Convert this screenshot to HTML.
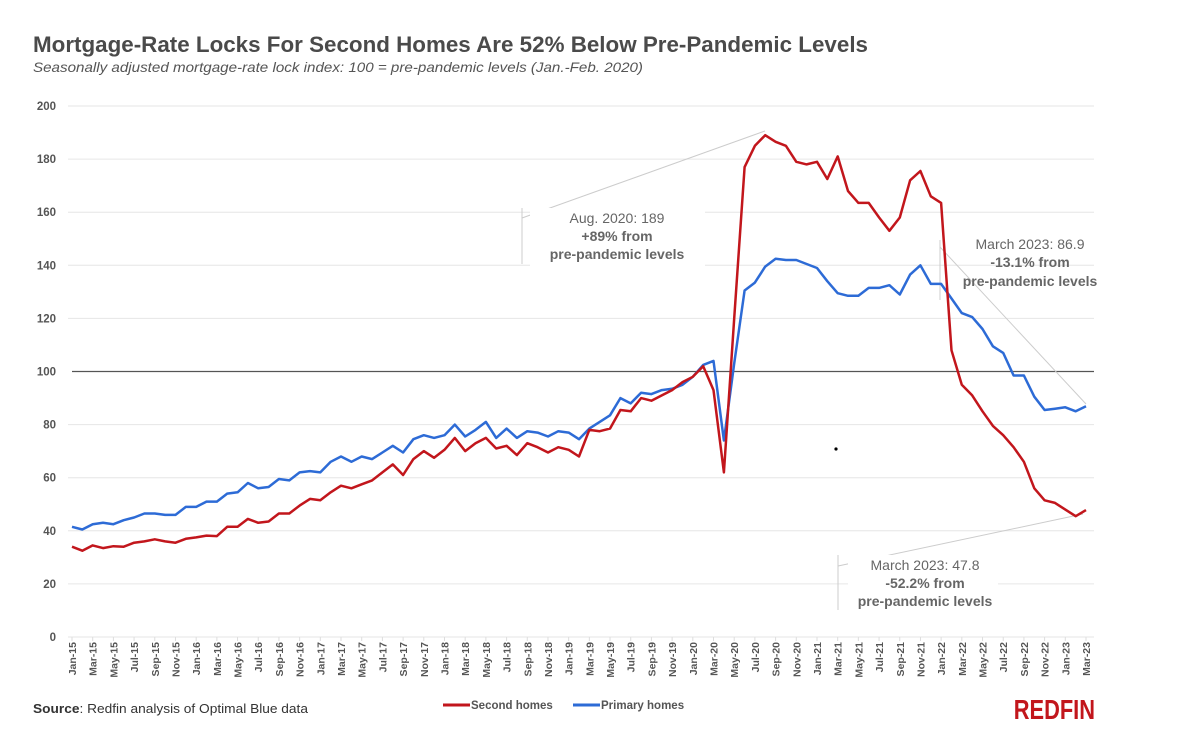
<!DOCTYPE html>
<html><head><meta charset="utf-8"><style>
body{margin:0;background:#fff;width:1200px;height:738px;overflow:hidden}
svg{display:block;font-family:"Liberation Sans",sans-serif}
</style></head><body>
<svg id="s" width="1200" height="738" viewBox="0 0 1200 738" xmlns="http://www.w3.org/2000/svg">
<text x="33" y="52" font-size="22" font-weight="bold" fill="#4a4a4a" textLength="835" lengthAdjust="spacingAndGlyphs">Mortgage-Rate Locks For Second Homes Are 52% Below Pre-Pandemic Levels</text>
<text x="33" y="72" font-size="14" font-style="italic" fill="#555" textLength="610" lengthAdjust="spacingAndGlyphs">Seasonally adjusted mortgage-rate lock index: 100 = pre-pandemic levels (Jan.-Feb. 2020)</text>
<g id="grid"></g>
<line x1="72" y1="371.5" x2="1094" y2="371.5" stroke="#555" stroke-width="1.3"/>
<g stroke="#ccc" stroke-width="1" fill="none">
<polyline points="522,208 522,264"/><line x1="522" y1="218" x2="765" y2="131"/>
<polyline points="940,240 940,300"/><line x1="940" y1="247" x2="1086" y2="404"/>
<polyline points="838,555 838,610"/><line x1="838" y1="566" x2="1083" y2="514"/>
</g>
<rect x="530" y="208" width="175" height="60" fill="#fff"/>
<text text-anchor="middle" font-size="14" fill="#666"><tspan x="617" y="223">Aug. 2020: 189</tspan><tspan x="617" y="241" font-weight="bold">+89% from</tspan><tspan x="617" y="259" font-weight="bold">pre-pandemic levels</tspan></text>
<text text-anchor="middle" font-size="14" fill="#666"><tspan x="1030" y="249">March 2023: 86.9</tspan><tspan x="1030" y="267" font-weight="bold">-13.1% from</tspan><tspan x="1030" y="286" font-weight="bold">pre-pandemic levels</tspan></text>
<rect x="848" y="555" width="150" height="55" fill="#fff"/>
<text text-anchor="middle" font-size="14" fill="#666"><tspan x="925" y="570">March 2023: 47.8</tspan><tspan x="925" y="588" font-weight="bold">-52.2% from</tspan><tspan x="925" y="606" font-weight="bold">pre-pandemic levels</tspan></text>
<polyline id="blue" fill="none" stroke="#2d6bd6" stroke-width="2.5" stroke-linejoin="round"/>
<polyline id="red" fill="none" stroke="#c2161c" stroke-width="2.5" stroke-linejoin="round"/>
<circle cx="836" cy="449" r="1.6" fill="#000"/>
<g id="xl" font-size="10.5" font-weight="bold" fill="#555"></g>
<text x="33" y="713" font-size="13" fill="#333" textLength="275" lengthAdjust="spacingAndGlyphs"><tspan font-weight="bold">Source</tspan>: Redfin analysis of Optimal Blue data</text>
<line x1="443" y1="705" x2="470" y2="705" stroke="#c2161c" stroke-width="3"/>
<text x="471" y="709" font-size="11.5" font-weight="bold" fill="#555">Second homes</text>
<line x1="573" y1="705" x2="600" y2="705" stroke="#2d6bd6" stroke-width="3"/>
<text x="601" y="709" font-size="11.5" font-weight="bold" fill="#555">Primary homes</text>
<text x="1095" y="719" text-anchor="end" font-size="28" font-weight="bold" fill="#c2161c" transform="translate(1095 0) scale(0.78 1) translate(-1095 0)">REDFIN</text>
</svg>
<script>
var Y=v=>637-2.655*v, X=i=>72+i*(1086-72)/98, NS="http://www.w3.org/2000/svg";
var red=[34,32.5,34.5,33.5,34.2,34,35.5,36,36.8,36,35.5,37,
37.5,38.2,38,41.5,41.5,44.5,43,43.5,46.5,46.5,49.5,52,
51.5,54.5,57,56,57.5,59,62,65,61,67,70,67.5,
70.5,75,70,73,75,71,72,68.5,73,71.5,69.5,71.5,
70.5,68,78,77.5,78.5,85.5,85,90,89,91,93,96,
98,102,93,62,120,177,185,189,186.5,185,179,178,
179,172.5,181,168,163.5,163.5,158,153,158,172,175.5,166,
163.5,108,95,91,85,79.5,76,71.5,66,56,51.5,50.5,
48,45.5,47.8];
var blue=[41.5,40.5,42.5,43,42.5,44,45,46.5,46.5,46,46,49,
49,51,51,54,54.5,58,56,56.5,59.5,59,62,62.5,
62,66,68,66,68,67,69.5,72,69.5,74.5,76,75,
76,80,75.5,78,81,75,78.5,75,77.5,77,75.5,77.5,
77,74.5,78.5,81,83.5,90,88,92,91.5,93,93.5,95,
98,102.5,104,74,103,130.5,133.5,139.5,142.5,142,142,140.5,
139,134,129.5,128.5,128.5,131.5,131.5,132.5,129,136.5,140,133,
133,127.5,122,120.5,116,109.5,107,98.5,98.5,90.5,85.5,86,
86.5,85,86.9];
document.getElementById('red').setAttribute('points',red.map((v,i)=>X(i).toFixed(1)+','+Y(v).toFixed(1)).join(' '));
document.getElementById('blue').setAttribute('points',blue.map((v,i)=>X(i).toFixed(1)+','+Y(v).toFixed(1)).join(' '));
var g=document.getElementById('grid');
for(var v=0;v<=200;v+=20){
 if(v!=100){var l=document.createElementNS(NS,'line');l.setAttribute('x1',68);l.setAttribute('x2',1094);l.setAttribute('y1',Y(v));l.setAttribute('y2',Y(v));l.setAttribute('stroke','#e6e6e6');g.appendChild(l);}
 var t=document.createElementNS(NS,'text');t.setAttribute('x',56);t.setAttribute('y',Y(v)+4);t.setAttribute('text-anchor','end');t.setAttribute('font-size','11.5');t.setAttribute('font-weight','bold');t.setAttribute('fill','#555');t.textContent=v;g.appendChild(t);
}
var m=['Jan','Mar','May','Jul','Sep','Nov'],xl=document.getElementById('xl');
for(var i=0;i<99;i+=2){
 var yr=15+Math.floor(i/12),mo=m[(i%12)/2];
 var t=document.createElementNS(NS,'text');var x=X(i)+4;
 t.setAttribute('transform','translate('+x+' 642) rotate(-90)');t.setAttribute('text-anchor','end');t.textContent=mo+'-'+yr;xl.appendChild(t);
 var k=document.createElementNS(NS,'line');k.setAttribute('x1',X(i));k.setAttribute('x2',X(i));k.setAttribute('y1',637);k.setAttribute('y2',641);k.setAttribute('stroke','#ddd');xl.appendChild(k);
}
</script>
</body></html>
